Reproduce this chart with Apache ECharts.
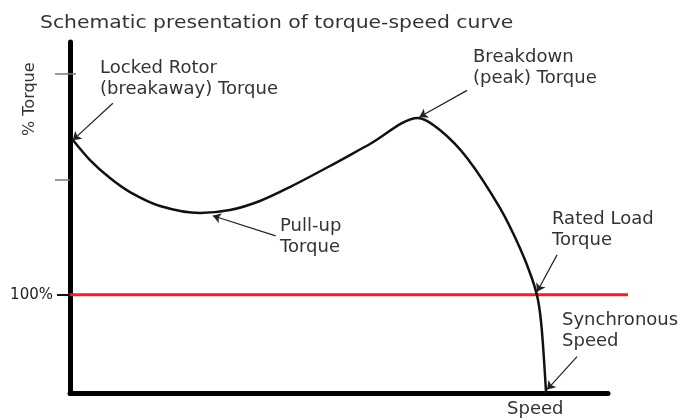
<!DOCTYPE html>
<html>
<head>
<meta charset="utf-8">
<script src="https://cdn.jsdelivr.net/npm/echarts@6/dist/echarts.min.js"></script>
<style>
  html, body { margin: 0; padding: 0; background: #fff; }
  #chart { width: 680px; height: 419px; }
</style>
</head>
<body>
<div id="chart"></div>
<script>
// speed in % of synchronous speed, torque in % of rated torque
var speed  = [0.6, 4.2, 8.4, 12.6, 18.9, 27.3, 33.6, 39.9, 46.2, 54.6, 63.0, 73.1, 77.7, 83.4, 90.3, 94.5, 97.0, 98.3, 99.1, 100];
var torque = [256.7, 236.4, 218.2, 204.0, 189.9, 182.8, 185.8, 195.0, 209.1, 230.4, 252.7, 279.0, 266.8, 238.5, 187.9, 147.4, 117.0, 94.7, 64.3, 0];

var ratedSpeed = [0, 117.2];
var ratedTorque = [100, 100];

var tickValues = [216, 324];
var ratedTick = [100];

// annotation arrows: [from, to] in data units
var arrows = [
  [[9.0, 294], [0.6, 256.6]],
  [[83.4, 307], [73.4, 280]],
  [[43.2, 159.6], [30.0, 180]],
  [[102.3, 140.4], [98.1, 103]],
  [[106.5, 37.4], [100.2, 4]]
];

var font = '"DejaVu Sans", sans-serif';
var txt = '#333';

var chart = echarts.init(document.getElementById('chart'));

function label(text, x, y, size, sx) {
  return {
    type: 'text', left: x, top: y, scaleX: sx,
    style: { text: text, font: size + 'px ' + font, fill: txt, lineHeight: size + 4 }
  };
}

var hiddenAxis = {
  axisLine: { show: false }, axisTick: { show: false },
  axisLabel: { show: false }, splitLine: { show: false }
};

var option = {
  animation: false,
  backgroundColor: '#fff',
  grid: [
    { left: 70, right: 72, top: 42, bottom: 25.5 },
    { left: 70, right: 52, top: 42, bottom: 25.5 }
  ],
  xAxis: [{
    type: 'value', min: 0, max: 113, gridIndex: 0,
    axisLine: { show: true, onZero: false, lineStyle: { color: '#000', width: 5 } },
    axisTick: { show: false },
    axisLabel: { show: false },
    splitLine: { show: false }
  }, Object.assign({ type: 'value', min: 0, max: 117.2, gridIndex: 1 }, hiddenAxis)],
  yAxis: [{
    type: 'value', min: 0, max: 356,
    axisLine: { show: true, lineStyle: { color: '#000', width: 5 } },
    axisTick: { show: true, customValues: tickValues, length: 15, lineStyle: { color: '#777', width: 1.5 } },
    axisLabel: { show: false },
    splitLine: { show: false }
  }, {
    type: 'value', min: 0, max: 356, position: 'left',
    axisLine: { show: false },
    axisTick: { show: true, customValues: ratedTick, length: 13, lineStyle: { color: '#111', width: 2 } },
    axisLabel: { show: true, customValues: ratedTick, formatter: '{value}%', margin: 17,
      color: '#222', fontSize: 15, fontFamily: font },
    splitLine: { show: false }
  }, {
    type: 'value', min: 0, max: 356, position: 'left',
    axisLine: { show: false },
    axisTick: { show: true, inside: true, customValues: [tickValues[1]], length: 6, lineStyle: { color: '#777', width: 1.5 } },
    axisLabel: { show: false },
    splitLine: { show: false }
  }, Object.assign({ type: 'value', min: 0, max: 356, gridIndex: 1 }, hiddenAxis)],
  series: [{
    type: 'line',
    xAxisIndex: 1, yAxisIndex: 3,
    data: ratedSpeed.map(function (s, i) { return [s, ratedTorque[i]]; }),
    symbol: 'none',
    lineStyle: { color: '#e8232b', width: 3 },
    z: 2
  }, {
    type: 'line',
    data: speed.map(function (s, i) { return [s, torque[i]]; }),
    smooth: 0.3,
    symbol: 'none',
    lineStyle: { color: '#111', width: 2.5 },
    z: 3,
    markLine: {
      silent: true,
      symbol: ['none', 'arrow'],
      symbolSize: 8,
      label: { show: false },
      lineStyle: { color: '#222', width: 1.2, type: 'solid' },
      data: arrows.map(function (a) {
        return [{ coord: a[0] }, { coord: a[1] }];
      })
    }
  }],
  graphic: [
    label('Schematic presentation of torque-speed curve', 40, 12, 18, 1.13),
    label('Locked Rotor\n(breakaway) Torque', 100, 58, 17, 1.06),
    label('Breakdown\n(peak) Torque', 473, 47, 17, 1.06),
    label('Pull-up\nTorque', 280, 216, 17, 1.06),
    label('Rated Load\nTorque', 552, 209, 17, 1.06),
    label('Synchronous\nSpeed', 562, 310, 17, 1.06),
    label('Speed', 507, 399, 17, 1.06),
    {
      type: 'text', x: 22, y: 136, rotation: Math.PI / 2,
      style: { text: '% Torque', font: '16px ' + font, fill: txt }
    }
  ]
};

chart.setOption(option);
</script>
</body>
</html>
